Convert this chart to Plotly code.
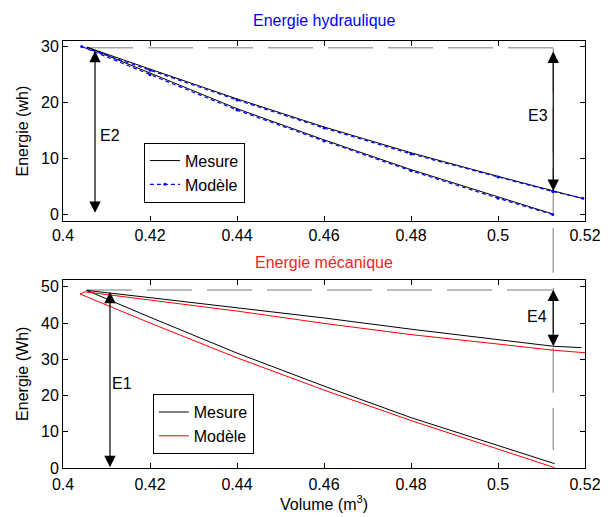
import plotly.graph_objects as go

# ---------------- data ----------------
# Energie hydraulique (top) - measured path: lower branch (right->left) then upper branch (left->right)
vol_hyd_mes = [0.5126, 0.50, 0.48, 0.46, 0.44, 0.42, 0.4055, 0.42, 0.44, 0.46, 0.48, 0.50, 0.5126, 0.5192]
e_hyd_mes = [0.1, 3.1, 8.0, 13.3, 18.85, 25.2, 29.8, 25.9, 20.6, 15.6, 11.0, 6.8, 4.2, 2.9]
vol_hyd_mod = [0.5126, 0.50, 0.48, 0.46, 0.44, 0.42, 0.4043, 0.42, 0.44, 0.46, 0.48, 0.50, 0.5126, 0.5195]
e_hyd_mod = [0.0, 2.9, 7.8, 13.1, 18.6, 24.9, 29.9, 25.7, 20.4, 15.4, 10.8, 6.7, 4.1, 2.9]

# Energie mecanique (bottom)
vol_mec_mes = [0.513, 0.50, 0.48, 0.46, 0.44, 0.42, 0.4054, 0.42, 0.44, 0.46, 0.48, 0.50, 0.5126, 0.5192]
e_mec_mes = [1.2, 6.2, 13.9, 22.6, 31.7, 41.6, 49.0, 47.0, 44.3, 41.4, 38.3, 35.5, 33.6, 33.2]
vol_mec_mod = [0.513, 0.50, 0.48, 0.46, 0.44, 0.42, 0.4039, 0.4051, 0.42, 0.44, 0.46, 0.48, 0.50, 0.5126, 0.52]
e_mec_mod = [0.1, 5.3, 13.1, 21.5, 30.4, 40.0, 48.0, 48.6, 46.4, 43.3, 39.9, 36.8, 34.2, 32.5, 31.8]

x_ticks = [0.4, 0.42, 0.44, 0.46, 0.48, 0.5, 0.52]
y_ticks_hyd = [0, 10, 20, 30]
y_ticks_mec = [0, 10, 20, 30, 40, 50]

# energy markers (annotations)
v_e_left_hyd, e2_top, e2_bot = 0.40736, 29.4, 0.3
v_e_right, e3_top, e3_bot = 0.5127, 29.3, 4.2
v_e_left_mec, e1_top, e1_bot = 0.4108, 49.0, 0.2
e4_top, e4_bot = 49.6, 33.6
h_ref_hyd, h_ref_mec = 29.7, 49.1

# ---------------- layout geometry ----------------
X_RANGE = [0.4, 0.52]
Y1_RANGE = [-1.2, 30.9]
Y2_RANGE = [0, 52.0]
D1 = [0.5778, 1.0]
D2 = [0.0, 0.4414]

FONT = "Liberation Sans, Arial, sans-serif"
GRAY = "rgb(165,165,165)"


def to_paper(e, rng, dom):
    return dom[0] + (e - rng[0]) / (rng[1] - rng[0]) * (dom[1] - dom[0])


fig = go.Figure()
fig.add_trace(go.Scatter(x=vol_hyd_mes, y=e_hyd_mes, mode="lines", name="Mesure",
                         line=dict(color="black", width=1), xaxis="x", yaxis="y", legend="legend"))
fig.add_trace(go.Scatter(x=vol_hyd_mod, y=e_hyd_mod, mode="lines+markers", name="Modèle",
                         line=dict(color="blue", width=1.2, dash="4px,3px"),
                         marker=dict(color="blue", size=3),
                         xaxis="x", yaxis="y", legend="legend"))
fig.add_trace(go.Scatter(x=vol_mec_mes, y=e_mec_mes, mode="lines", name="Mesure",
                         line=dict(color="black", width=1), xaxis="x2", yaxis="y2", legend="legend2"))
fig.add_trace(go.Scatter(x=vol_mec_mod, y=e_mec_mod, mode="lines", name="Modèle",
                         line=dict(color="red", width=1), xaxis="x2", yaxis="y2", legend="legend2"))

axis_common = dict(showline=True, linecolor="black", linewidth=1, mirror="ticks",
                   ticks="inside", ticklen=5, tickcolor="black", showgrid=False, zeroline=False,
                   automargin=False,
                   tickfont=dict(family=FONT, size=16, color="black"))

fig.update_layout(
    width=613, height=517,
    margin=dict(l=63, r=28, t=40.5, b=49),
    paper_bgcolor="white", plot_bgcolor="white",
    font=dict(family=FONT, size=16, color="black"),
    xaxis=dict(domain=[0, 1], range=X_RANGE, tickvals=x_ticks, anchor="y", **axis_common),
    yaxis=dict(domain=D1, range=Y1_RANGE, tickvals=y_ticks_hyd, anchor="x",
               title=dict(text="Energie (wh)", font=dict(family=FONT, size=16), standoff=8),
               **axis_common),
    xaxis2=dict(domain=[0, 1], range=X_RANGE, tickvals=x_ticks, anchor="y2", ticklabelstandoff=2,
                title=dict(text="Volume (m<sup>3</sup>)", font=dict(family=FONT, size=16), standoff=4),
                **axis_common),
    yaxis2=dict(domain=D2, range=Y2_RANGE, tickvals=y_ticks_mec, anchor="x2",
                title=dict(text="Energie (Wh)", font=dict(family=FONT, size=16), standoff=8),
                **axis_common),
    legend=dict(x=0.155, y=0.7619, xanchor="left", yanchor="top", bgcolor="white",
                bordercolor="black", borderwidth=1, font=dict(family=FONT, size=16),
                tracegroupgap=0),
    legend2=dict(x=0.172, y=0.1731, xanchor="left", yanchor="top", bgcolor="white",
                 bordercolor="black", borderwidth=1, font=dict(family=FONT, size=16),
                 tracegroupgap=0),
    showlegend=True,
)

# reference dashed lines
shapes = [
    dict(type="line", xref="x", yref="y", x0=0.40575, x1=v_e_right, y0=h_ref_hyd, y1=h_ref_hyd,
         line=dict(color=GRAY, width=1.5, dash="45px,15px"), layer="below"),
    dict(type="line", xref="x2", yref="y2", x0=0.40552, x1=v_e_right, y0=h_ref_mec, y1=h_ref_mec,
         line=dict(color=GRAY, width=1.5, dash="45px,15px"), layer="below"),
    dict(type="line", xref="x", yref="paper", x0=v_e_right, x1=v_e_right,
         y0=to_paper(h_ref_hyd, Y1_RANGE, D1), y1=to_paper(4.9, Y2_RANGE, D2),
         line=dict(color=GRAY, width=1.5, dash="45px,15px"), layer="below"),
]
fig.update_layout(shapes=shapes)

ann = []
# titles
ann.append(dict(text="Energie hydraulique", xref="paper", yref="paper", x=0.5, y=1.0,
                xanchor="center", yanchor="bottom", yshift=10, showarrow=False,
                font=dict(family=FONT, size=16, color="blue")))
ann.append(dict(text="Energie mécanique", xref="paper", yref="paper", x=0.5, y=D2[1],
                xanchor="center", yanchor="bottom", yshift=7, showarrow=False,
                font=dict(family=FONT, size=16, color="rgb(235,40,30)")))


def darrow(xr, yr, x, y0, y1):
    return dict(xref=xr, yref=yr, axref=xr, ayref=yr, x=x, y=y1, ax=x, ay=y0, text="",
                showarrow=True, arrowhead=2, arrowside="end+start", arrowsize=1.9,
                arrowwidth=1.2, arrowcolor="black", standoff=0, startstandoff=0)


ann.append(darrow("x", "y", v_e_left_hyd, e2_top, e2_bot))
ann.append(darrow("x", "y", v_e_right, e3_top, e3_bot))
ann.append(darrow("x2", "y2", v_e_left_mec, e1_top, e1_bot))
ann.append(darrow("x2", "y2", v_e_right, e4_top, e4_bot))

for txt, xr, yr, xv, yv in [("E2", "x", "y", 0.4108, 14.1), ("E3", "x", "y", 0.5092, 17.7),
                            ("E1", "x2", "y2", 0.41356, 23.4), ("E4", "x2", "y2", 0.5089, 41.7)]:
    ann.append(dict(text=txt, xref=xr, yref=yr, x=xv, y=yv, showarrow=False,
                    font=dict(family=FONT, size=16, color="black")))

fig.update_layout(annotations=ann)
fig.write_html("out.html", config={"displayModeBar": False},
               post_script="document.body.style.margin='0';")
